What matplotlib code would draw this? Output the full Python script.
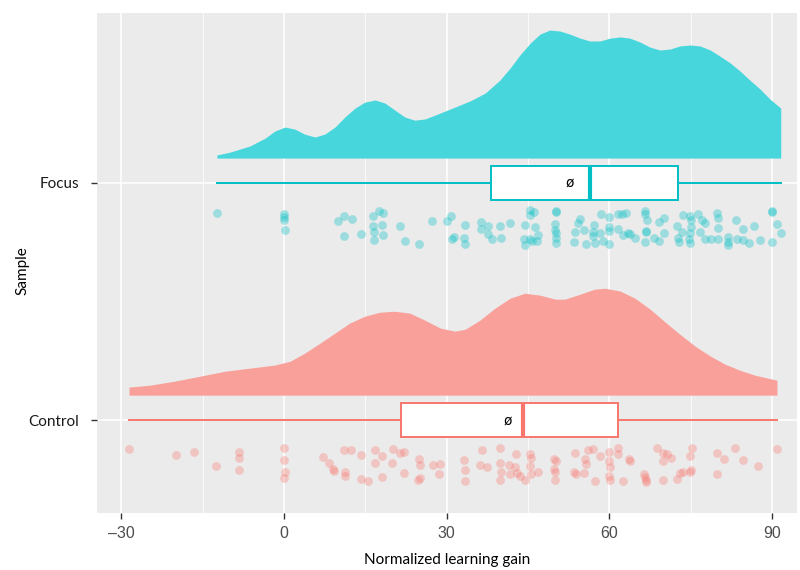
import matplotlib
matplotlib.use("Agg")
import matplotlib.pyplot as plt
import numpy as np

# ---------------- data ----------------
categories = ["Control", "Focus"]
cat_pos = [1, 2]

focus_values = [-12.4, 0.0, 0.0, 0.0, 0.1, 9.9, 11.1, 12.5, 11.1, 14.2, 16.4, 17.6, 18.3, 16.4, 18.0,
                16.6, 18.2, 16.6, 21.4, 22.3, 24.9, 27.2, 30.0, 30.8, 30.9, 31.3, 33.3, 33.2, 33.4,
                36.3, 36.4, 37.6, 37.6, 38.3, 39.9, 40.0, 41.6, 44.4, 45.3, 46.1, 45.4, 46.2, 46.8,
                44.3, 45.3, 44.4, 45.7, 46.6, 50.1, 50.1, 50.0, 50.0, 50.1, 50.1, 50.1, 54.5, 54.3,
                55.4, 53.7, 53.5, 55.6, 57.2, 57.0, 56.9, 57.3, 58.4, 58.3, 58.8, 59.9, 60.0, 60.0,
                60.0, 61.5, 61.5, 62.4, 63.1, 62.6, 63.5, 63.8, 64.8, 66.6, 66.6, 66.9, 66.8, 66.8,
                66.6, 68.3, 69.2, 70.1, 70.0, 69.2, 72.5, 73.5, 73.4, 72.7, 72.8, 74.9, 75.0, 75.0,
                74.9, 74.7, 74.9, 76.4, 77.0, 77.7, 76.7, 77.7, 78.7, 79.9, 80.0, 80.0, 80.0, 81.8,
                81.8, 81.8, 83.3, 83.5, 84.7, 84.7, 85.7, 86.6, 87.7, 89.9, 89.9, 91.0, 91.6, 89.9]
focus_jitter = [-0.127, -0.131, -0.145, -0.156, -0.200, -0.162, -0.141, -0.153, -0.224, -0.214, -0.139,
                -0.117, -0.128, -0.180, -0.178, -0.205, -0.221, -0.241, -0.181, -0.243, -0.257, -0.159,
                -0.162, -0.139, -0.235, -0.227, -0.178, -0.232, -0.259, -0.165, -0.194, -0.181, -0.215,
                -0.238, -0.181, -0.233, -0.169, -0.178, -0.114, -0.121, -0.135, -0.184, -0.221, -0.236,
                -0.238, -0.263, -0.243, -0.246, -0.117, -0.124, -0.174, -0.198, -0.212, -0.233, -0.252,
                -0.152, -0.170, -0.197, -0.208, -0.250, -0.257, -0.177, -0.205, -0.224, -0.252, -0.131,
                -0.212, -0.245, -0.145, -0.187, -0.203, -0.259, -0.132, -0.195, -0.132, -0.128, -0.219,
                -0.210, -0.216, -0.231, -0.117, -0.132, -0.156, -0.201, -0.208, -0.248, -0.231, -0.163,
                -0.149, -0.212, -0.243, -0.181, -0.136, -0.208, -0.233, -0.250, -0.139, -0.156, -0.187,
                -0.212, -0.238, -0.254, -0.131, -0.156, -0.170, -0.208, -0.236, -0.236, -0.125, -0.149,
                -0.191, -0.238, -0.227, -0.248, -0.262, -0.156, -0.238, -0.195, -0.242, -0.252, -0.181,
                -0.241, -0.117, -0.124, -0.173, -0.211, -0.248]

control_values = [-28.6, -20.0, -16.6, -12.6, -8.4, -8.4, -8.4, 0.0, 0.0, 0.2, 0.0, 7.1, 8.3, 9.0, 9.2,
                  11.0, 12.3, 14.1, 11.2, 11.2, 14.2, 15.5, 16.7, 18.1, 16.7, 20.1, 21.4, 22.2, 19.9,
                  18.0, 22.1, 24.8, 25.1, 27.4, 28.7, 28.6, 25.1, 24.7, 33.2, 33.4, 33.3, 36.5, 36.2,
                  37.5, 39.9, 39.8, 40.1, 39.9, 42.8, 41.5, 42.6, 41.7, 43.0, 43.6, 44.4, 45.4, 45.5,
                  45.4, 45.5, 46.8, 49.8, 50.1, 49.8, 50.0, 50.0, 53.7, 53.5, 53.8, 55.4, 55.5, 55.7,
                  56.1, 57.0, 58.3, 57.3, 60.0, 61.5, 61.5, 60.0, 60.2, 60.0, 60.1, 62.5, 63.6, 63.8,
                  66.4, 66.6, 66.7, 66.8, 68.7, 69.9, 70.6, 69.8, 71.4, 69.9, 72.5, 73.0, 73.5, 74.8,
                  75.2, 75.0, 74.9, 79.9, 81.1, 79.9, 83.2, 84.7, 87.4, 90.9]
control_jitter = [-0.122, -0.146, -0.136, -0.194, -0.135, -0.160, -0.212, -0.118, -0.169, -0.221, -0.245,
                  -0.156, -0.179, -0.207, -0.216, -0.128, -0.128, -0.146, -0.221, -0.238, -0.250, -0.256,
                  -0.128, -0.152, -0.180, -0.121, -0.138, -0.136, -0.181, -0.239, -0.224, -0.163, -0.189,
                  -0.189, -0.186, -0.227, -0.245, -0.254, -0.167, -0.210, -0.256, -0.128, -0.191, -0.198,
                  -0.118, -0.183, -0.221, -0.254, -0.143, -0.191, -0.198, -0.227, -0.224, -0.238, -0.252,
                  -0.143, -0.160, -0.194, -0.227, -0.221, -0.163, -0.174, -0.207, -0.219, -0.252, -0.138,
                  -0.219, -0.228, -0.224, -0.163, -0.184, -0.128, -0.122, -0.152, -0.256, -0.134, -0.118,
                  -0.143, -0.172, -0.198, -0.235, -0.252, -0.259, -0.165, -0.172, -0.227, -0.241, -0.252,
                  -0.263, -0.118, -0.139, -0.143, -0.172, -0.160, -0.254, -0.249, -0.224, -0.219, -0.152,
                  -0.118, -0.212, -0.221, -0.139, -0.163, -0.227, -0.118, -0.167, -0.194, -0.121]

# density profiles (x, scaled density height)
focus_dens_x = [-12.4, -10.0, -6.3, -3.5, -1.7, 0.2, 2.0, 3.8, 5.7, 7.5, 9.4, 11.2, 13.1, 14.9, 16.8,
                18.6, 20.4, 22.3, 24.1, 26.0, 28.8, 31.5, 34.3, 37.1, 39.8, 41.7, 43.5, 45.4, 47.2,
                49.0, 50.9, 52.7, 54.6, 56.4, 58.3, 60.1, 62.0, 63.8, 65.7, 67.5, 69.3, 71.2, 73.0,
                74.9, 76.7, 78.6, 80.4, 82.3, 84.1, 85.9, 87.8, 89.6, 91.6]
focus_dens_h = [0.013, 0.025, 0.051, 0.084, 0.114, 0.131, 0.122, 0.101, 0.089, 0.101, 0.131, 0.173,
                0.211, 0.236, 0.245, 0.232, 0.203, 0.173, 0.160, 0.165, 0.190, 0.215, 0.241, 0.274,
                0.329, 0.380, 0.435, 0.485, 0.523, 0.540, 0.536, 0.523, 0.506, 0.494, 0.494, 0.506,
                0.511, 0.506, 0.489, 0.468, 0.456, 0.460, 0.473, 0.477, 0.473, 0.456, 0.430, 0.401,
                0.367, 0.329, 0.291, 0.249, 0.211]

control_dens_x = [-28.6, -24.8, -20.2, -15.5, -10.9, -6.3, -1.7, 1.1, 3.8, 6.6, 9.4, 12.1, 14.9, 17.7,
                  20.4, 23.2, 26.0, 28.8, 31.5, 33.4, 36.1, 38.9, 41.7, 44.4, 47.2, 50.0, 51.8, 54.6,
                  57.3, 59.2, 62.0, 64.7, 67.5, 70.3, 73.0, 75.8, 78.6, 81.3, 84.1, 86.9, 90.9]
control_dens_h = [0.034, 0.042, 0.059, 0.080, 0.101, 0.114, 0.127, 0.143, 0.177, 0.219, 0.262, 0.304,
                  0.333, 0.350, 0.354, 0.346, 0.316, 0.283, 0.270, 0.278, 0.316, 0.367, 0.409, 0.430,
                  0.422, 0.405, 0.405, 0.426, 0.447, 0.451, 0.439, 0.409, 0.363, 0.308, 0.257, 0.207,
                  0.165, 0.131, 0.105, 0.084, 0.063]

# box statistics
focus_box = dict(whislo=-12.4, q1=38.2, med=56.4, q3=72.7, whishi=91.6, mean=52.7)
control_box = dict(whislo=-28.6, q1=21.6, med=44.0, q3=61.5, whishi=90.9, mean=41.2)

x_ticks = [-30, 0, 30, 60, 90]
x_minor = [-15, 15, 45, 75]

# ---------------- style ----------------
line_cols = {"Focus": "#00BFC4", "Control": "#F8766D"}
fill_cols = {"Focus": "#48D6DD", "Control": "#F9A09A"}
panel_bg = "#EBEBEB"
title_font = ["Lato", "DejaVu Sans"]
tick_font = ["Liberation Sans Narrow", "Liberation Sans", "DejaVu Sans"]

fig = plt.figure(figsize=(8.0, 5.7), dpi=100)
ax = fig.add_axes([97 / 800, 1 - 513 / 570, (797 - 97) / 800, (513 - 13) / 570])
ax.set_facecolor(panel_bg)
for s in ax.spines.values():
    s.set_visible(False)

ax.set_xlim(-34.5, 94.6)
ax.set_ylim(0.608, 2.717)

ax.set_xticks(x_ticks)
ax.set_xticks(x_minor, minor=True)
ax.set_xticklabels(["\u201330" if t < 0 else str(t) for t in x_ticks])
ax.set_yticks(cat_pos)
ax.set_yticklabels(categories)
ax.grid(which="major", color="white", linewidth=1.1, zorder=0)
ax.grid(which="minor", axis="x", color="white", linewidth=0.55, zorder=0)
ax.set_axisbelow(True)
ax.tick_params(axis="both", which="major", length=4, width=1.0, color="#333333",
               labelcolor="#4D4D4D", labelsize=11.5)
ax.tick_params(axis="both", which="minor", length=0)
for lab in ax.get_xticklabels():
    lab.set_fontfamily(tick_font)
for lab in ax.get_yticklabels():
    lab.set_fontfamily(title_font)
    lab.set_color("#1a1a1a")
    lab.set_fontsize(11)
ax.tick_params(axis="x", pad=5)
ax.tick_params(axis="y", pad=9)

ax.set_xlabel("Normalized learning gain", fontfamily=title_font, fontsize=11, labelpad=9,
              color="black")
ax.set_ylabel("Sample", fontfamily=title_font, fontsize=11, labelpad=2, color="black")
ax.yaxis.set_label_coords(-0.096, 0.485)

groups = {
    "Focus": (2, focus_values, focus_jitter, focus_dens_x, focus_dens_h, focus_box),
    "Control": (1, control_values, control_jitter, control_dens_x, control_dens_h, control_box),
}

dens_offset = 0.105
box_halfwidth = 0.073

for name, (yc, vals, jit, dx, dh, box) in groups.items():
    col = line_cols[name]
    # half violin (density)
    base = yc + dens_offset
    ax.fill_between(dx, base, base + np.asarray(dh), color=fill_cols[name], linewidth=0, zorder=2)
    # rain (points)
    ax.scatter(vals, yc + np.asarray(jit), s=40, color=col, alpha=0.33, linewidths=0, zorder=3)
    # box plot
    stats = [dict(med=box["med"], q1=box["q1"], q3=box["q3"], whislo=box["whislo"],
                  whishi=box["whishi"], fliers=[])]
    ax.bxp(stats, positions=[yc], vert=False, widths=2 * box_halfwidth, showcaps=False,
           patch_artist=True, manage_ticks=False,
           boxprops=dict(facecolor="white", edgecolor=col, linewidth=1.4),
           whiskerprops=dict(color=col, linewidth=1.4),
           medianprops=dict(color=col, linewidth=3.0, solid_capstyle="butt"),
           zorder=4)
    ax.text(box["mean"], yc, "\u00f8", ha="center", va="center", fontsize=10,
            fontfamily="DejaVu Sans", color="black", zorder=5)

fig.savefig("out.png", dpi=100)
